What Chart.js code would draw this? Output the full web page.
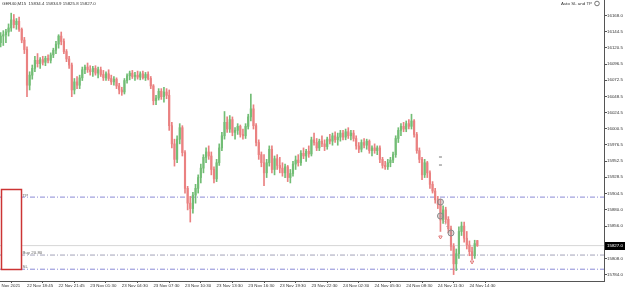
<!DOCTYPE html>
<html>
<head>
<meta charset="utf-8">
<script src="https://cdn.jsdelivr.net/npm/chart.js@4.4.0/dist/chart.umd.min.js"></script>
<style>
  html, body { margin: 0; padding: 0; background: #fff; }
  #wrap { width: 625px; height: 289px; }
</style>
</head>
<body>
<div id="wrap"><canvas id="chart"></canvas></div>
<script>
// GER40 M15 candles, index 0 = first bar on screen
const opens = [
  16128, 16138, 16140, 16144, 16150, 16162, 16155, 16160, 16148, 16132,
  16118, 16065, 16080, 16090, 16102, 16097, 16103, 16099, 16105, 16102,
  16110, 16117, 16126, 16138, 16130, 16115, 16104, 16095, 16058, 16070,
  16065, 16076, 16088, 16092, 16088, 16085, 16090, 16083, 16088, 16081,
  16076, 16082, 16075, 16070, 16074, 16064, 16058, 16055, 16072, 16079,
  16083, 16078, 16080, 16077, 16082, 16076, 16081, 16075, 16064, 16042,
  16046, 16056, 16048, 16055, 16050, 16005, 15978, 15955, 15985, 16002,
  15965, 15912, 15890, 15882, 15902, 15912, 15928, 15942, 15958, 15966,
  15960, 15940, 15926, 15950, 15972, 15990, 16010, 16000, 16014, 15995,
  15998, 16004, 15992, 15990, 16004, 16018, 16030, 16005, 15980, 15962,
  15950, 15935, 15950, 15970, 15940, 15956, 15946, 15942, 15935, 15944,
  15928, 15934, 15948, 15954, 15950, 15964, 15960, 15967, 15963, 15984,
  15980, 15972, 15982, 15978, 15974, 15985, 15982, 15990, 15984, 15988,
  15994, 15988, 15996, 15990, 15994, 15986, 15975, 15970, 15980, 15976,
  15982, 15968, 15972, 15968, 15972, 15955, 15946, 15944, 15950, 15954,
  15962, 15986, 15998, 16004, 16000, 16008, 16004, 16012, 15992, 15968,
  15955, 15932, 15950, 15935, 15918, 15908, 15895, 15888, 15865, 15880,
  15866, 15852, 15826, 15800, 15815, 15848, 15856, 15838, 15828, 15818,
  15812, 15834.4
];
const highs = [
  16143, 16146, 16148, 16156, 16172, 16170, 16164, 16166, 16150, 16136,
  16122, 16085, 16095, 16108, 16112, 16106, 16108, 16108, 16110, 16113,
  16120, 16130, 16140, 16144, 16134, 16118, 16108, 16098, 16075, 16078,
  16080, 16092, 16095, 16098, 16094, 16093, 16094, 16092, 16092, 16087,
  16085, 16088, 16080, 16078, 16076, 16068, 16062, 16075, 16082, 16086,
  16087, 16084, 16086, 16085, 16086, 16084, 16085, 16078, 16066, 16050,
  16060, 16060, 16062, 16060, 16058, 16010, 15985, 15990, 16008, 16005,
  15968, 15915, 15900, 15906, 15918, 15932, 15948, 15962, 15972, 15975,
  15966, 15944, 15955, 15978, 15995, 16026, 16018, 16020, 16018, 16002,
  16008, 16006, 16000, 16008, 16022, 16052, 16036, 16008, 15984, 15966,
  15962, 15955, 15975, 15975, 15960, 15962, 15958, 15950, 15948, 15946,
  15940, 15952, 15960, 15962, 15968, 15972, 15970, 15975, 15988, 15994,
  15986, 15985, 15990, 15984, 15988, 15992, 15994, 15996, 15994, 15998,
  15998, 16000, 16002, 15998, 15998, 15990, 15980, 15984, 15986, 15985,
  15984, 15975, 15978, 15975, 15975, 15958, 15952, 15955, 15958, 15966,
  15990, 16002, 16008, 16010, 16012, 16014, 16022, 16014, 15995, 15972,
  15958, 15955, 15952, 15938, 15922, 15912, 15900, 15896, 15886, 15884,
  15870, 15856, 15830, 15822, 15855, 15862, 15862, 15848, 15834, 15825,
  15835, 15834.9
];
const lows = [
  16122, 16124, 16128, 16138, 16145, 16150, 16148, 16145, 16128, 16112,
  16048, 16058, 16074, 16085, 16092, 16090, 16095, 16094, 16098, 16098,
  16106, 16112, 16120, 16125, 16112, 16100, 16090, 16048, 16052, 16060,
  16060, 16072, 16082, 16084, 16080, 16078, 16080, 16076, 16078, 16072,
  16072, 16072, 16066, 16065, 16060, 16052, 16050, 16052, 16068, 16073,
  16075, 16072, 16074, 16073, 16074, 16072, 16073, 16060, 16036, 16036,
  16043, 16044, 16040, 16045, 15998, 15972, 15945, 15950, 15978, 15960,
  15905, 15880, 15862, 15875, 15890, 15905, 15920, 15935, 15950, 15955,
  15932, 15920, 15922, 15946, 15968, 15985, 15995, 15995, 15990, 15985,
  15992, 15988, 15985, 15986, 16000, 16012, 16000, 15975, 15955, 15944,
  15916, 15928, 15945, 15935, 15932, 15940, 15935, 15930, 15928, 15922,
  15920, 15930, 15940, 15945, 15946, 15956, 15952, 15958, 15960, 15976,
  15968, 15968, 15974, 15968, 15970, 15978, 15976, 15980, 15976, 15982,
  15984, 15984, 15986, 15984, 15982, 15970, 15965, 15966, 15972, 15970,
  15964, 15960, 15964, 15962, 15950, 15942, 15940, 15940, 15944, 15950,
  15958, 15980, 15990, 15996, 15996, 16000, 16000, 15988, 15964, 15950,
  15925, 15928, 15928, 15912, 15905, 15890, 15882, 15848, 15860, 15860,
  15846, 15820, 15784, 15790, 15808, 15842, 15832, 15822, 15812, 15806,
  15808, 15825.8
];
const closes = [
  16138, 16140, 16144, 16150, 16162, 16155, 16160, 16148, 16132, 16118,
  16065, 16080, 16090, 16102, 16097, 16103, 16099, 16105, 16102, 16110,
  16117, 16126, 16138, 16130, 16115, 16104, 16095, 16058, 16070, 16065,
  16076, 16088, 16092, 16088, 16085, 16090, 16083, 16088, 16081, 16076,
  16082, 16075, 16070, 16074, 16064, 16058, 16055, 16072, 16079, 16083,
  16078, 16080, 16077, 16082, 16076, 16081, 16075, 16064, 16042, 16046,
  16056, 16048, 16055, 16050, 16005, 15978, 15955, 15985, 16002, 15965,
  15912, 15890, 15882, 15902, 15912, 15928, 15942, 15958, 15966, 15960,
  15940, 15926, 15950, 15972, 15990, 16010, 16000, 16014, 15995, 15998,
  16004, 15992, 15990, 16004, 16018, 16030, 16005, 15980, 15962, 15950,
  15935, 15950, 15970, 15940, 15956, 15946, 15942, 15935, 15944, 15928,
  15934, 15948, 15954, 15950, 15964, 15960, 15967, 15963, 15984, 15980,
  15972, 15982, 15978, 15974, 15985, 15982, 15990, 15984, 15988, 15994,
  15988, 15996, 15990, 15994, 15986, 15975, 15970, 15980, 15976, 15982,
  15968, 15972, 15968, 15972, 15955, 15946, 15944, 15950, 15954, 15962,
  15986, 15998, 16004, 16000, 16008, 16004, 16012, 15992, 15968, 15955,
  15932, 15950, 15935, 15918, 15908, 15895, 15888, 15865, 15880, 15866,
  15852, 15826, 15800, 15815, 15848, 15856, 15838, 15828, 15818, 15812,
  15830, 15827.0
];

// time axis labels and the bar index they sit on
const timeLabels = ['22 Nov 2021', '22 Nov 18:45', '22 Nov 21:45', '23 Nov 01:30', '23 Nov 04:30',
  '23 Nov 07:30', '23 Nov 10:30', '23 Nov 13:30', '23 Nov 16:30', '23 Nov 19:30', '23 Nov 22:30',
  '24 Nov 02:30', '24 Nov 05:30', '24 Nov 08:30', '24 Nov 11:30', '24 Nov 14:30'];
const timeTickIdx = [-2, 10, 22, 34, 46, 58, 70, 82, 94, 106, 118, 130, 142, 154, 166, 178];

// price scale labels
const priceTicks = [16168.0, 16144.5, 16120.5, 16096.5, 16072.5, 16048.5, 16024.5, 16000.5,
  15976.5, 15952.5, 15928.5, 15904.5, 15880.0, 15856.0, 15808.0, 15784.0];

// trade levels
const tpLevel = 15899;
const buyLevel = 15813;
const slLevel = 15792;
const buyLots = '20.80';

// trade markers on the chart
const dealIdx = [167, 167, 171];
const dealPrice = [15891.7, 15871, 15845.7];
const orderMarkIdx = [167, 167];
const orderMarkPrice = [15958.5, 15946.6];
const stopMarkIdx = [167, 179];
const stopMarkPrice = [15839.8, 15802.7];

const X_MIN = -0.25, X_MAX = 229.1;
const Y_MIN = 15774.5, Y_MAX = 16191.5;

const BULL = '#72bd75';
const BEAR = '#ea8181';
const LEVEL = '#8a8ad6';
const FAMILY = "'Liberation Sans', Arial, sans-serif";

const last = closes.length - 1;
const candleColor = c => (closes[c.dataIndex] >= opens[c.dataIndex] ? BULL : BEAR);

function levelLine(v, color, dash) {
  return {
    type: 'line',
    data: [{ x: X_MIN, y: v }, { x: X_MAX, y: v }],
    borderColor: color,
    borderWidth: 1,
    borderDash: dash,
    pointRadius: 0,
    order: 10,
  };
}

// overlay texts: header, expert name, trade panel, bid box
const overlay = {
  id: 'overlay',
  afterDraw(chart) {
    const ctx = chart.ctx;
    const ya = chart.scales.y;
    const area = chart.chartArea;
    ctx.save();
    ctx.font = '4.4px ' + FAMILY;
    ctx.textBaseline = 'middle';
    ctx.fillStyle = '#333';
    ctx.textAlign = 'left';
    ctx.fillText('GER40,M15  ' + [opens[last], highs[last], lows[last], closes[last]].map(v => v.toFixed(1)).join(' '), 2, 3.5);
    ctx.textAlign = 'right';
    ctx.fillText('Auto SL and TP', 592, 3.5);
    ctx.strokeStyle = '#555';
    ctx.lineWidth = 0.8;
    ctx.beginPath();
    ctx.arc(597, 3.5, 2.3, 0, Math.PI * 2);
    ctx.stroke();

    // trade panel
    ctx.fillStyle = '#fff';
    ctx.fillRect(1, 189, 21, 81);
    ctx.strokeStyle = '#cc3434';
    ctx.lineWidth = 1.5;
    ctx.strokeRect(1.5, 189.5, 20, 80);
    ctx.textAlign = 'left';
    ctx.fillStyle = '#666';
    ctx.fillText('TP', 22.5, ya.getPixelForValue(tpLevel) - 1.5);
    ctx.fillText('Buy ' + buyLots, 22.5, ya.getPixelForValue(buyLevel) - 2);
    ctx.fillText('SL', 22.5, ya.getPixelForValue(slLevel) - 2);

    // bid box on the price scale
    const py = Math.round(ya.getPixelForValue(closes[last]));
    ctx.fillStyle = '#000';
    ctx.fillRect(area.right + 1, py - 4, chart.width - area.right - 1, 8);
    ctx.fillStyle = '#fff';
    ctx.fillText(closes[last].toFixed(1), area.right + 3, py);
    ctx.restore();
  },
};

new Chart(document.getElementById('chart'), {
  type: 'bar',
  data: {
    datasets: [
      {
        label: 'wick',
        data: opens.map((o, i) => ({ x: i, y: [lows[i], highs[i]] })),
        backgroundColor: candleColor,
        barThickness: 1,
        grouped: false,
        order: 2,
      },
      {
        label: 'body',
        data: opens.map((o, i) => ({ x: i, y: [o, closes[i]] })),
        backgroundColor: candleColor,
        barThickness: 1.5,
        minBarLength: 1,
        grouped: false,
        order: 1,
      },
      levelLine(tpLevel, LEVEL, [5, 2, 1, 2]),
      levelLine(buyLevel, '#a3a3b8', [5, 2, 1, 2]),
      levelLine(slLevel, LEVEL, [5, 2, 1, 2]),
      levelLine(closes[last], '#d6d6d6', []),
      {
        type: 'line',
        data: dealIdx.slice(1).map((x, i) => ({ x, y: dealPrice[i + 1] })),
        borderColor: '#9a9a9a',
        borderWidth: 1,
        borderDash: [1, 2],
        pointRadius: 0,
        order: 0,
      },
      {
        type: 'scatter',
        data: dealIdx.map((x, i) => ({ x, y: dealPrice[i] })),
        pointStyle: 'circle',
        pointRadius: 3,
        borderColor: '#8a8a8a',
        backgroundColor: 'rgba(160,160,160,0.35)',
        borderWidth: 1,
        order: 0,
      },
      {
        type: 'scatter',
        data: orderMarkIdx.map((x, i) => ({ x, y: orderMarkPrice[i] })),
        pointStyle: 'line',
        pointRadius: 1.5,
        borderColor: '#777',
        borderWidth: 1,
        order: 0,
      },
      {
        type: 'scatter',
        data: stopMarkIdx.map((x, i) => ({ x, y: stopMarkPrice[i] })),
        pointStyle: 'triangle',
        rotation: 180,
        pointRadius: 2,
        borderColor: '#e07878',
        backgroundColor: 'rgba(0,0,0,0)',
        borderWidth: 1,
        order: 0,
      },
    ],
  },
  options: {
    responsive: true,
    maintainAspectRatio: false,
    animation: false,
    layout: { padding: 0, autoPadding: false },
    plugins: { legend: { display: false }, tooltip: { enabled: false } },
    scales: {
      x: {
        type: 'linear',
        min: X_MIN,
        max: X_MAX,
        offset: false,
        afterBuildTicks: s => { s.ticks = timeTickIdx.map(v => ({ value: v })); },
        afterFit: s => { s.height = 8; s.paddingLeft = 0; s.paddingRight = 0; },
        ticks: {
          align: 'start',
          autoSkip: false,
          maxRotation: 0,
          padding: 0,
          font: { size: 4.4, family: FAMILY },
          color: '#333',
          callback: (v, i) => timeLabels[i],
        },
        grid: { drawOnChartArea: false, tickLength: 2, color: '#555' },
        border: { color: '#555' },
      },
      y: {
        position: 'right',
        min: Y_MIN,
        max: Y_MAX,
        afterBuildTicks: s => { s.ticks = priceTicks.map(v => ({ value: v })); },
        afterFit: s => { s.width = 21; s.paddingTop = 0; s.paddingBottom = 0; },
        ticks: {
          autoSkip: false,
          crossAlign: 'near',
          padding: 0,
          font: { size: 4.4, family: FAMILY, lineHeight: 0.1 },
          color: '#333',
          callback: v => v.toFixed(1),
        },
        grid: { drawOnChartArea: false, tickLength: 3, color: '#555' },
        border: { color: '#555' },
      },
    },
  },
  plugins: [overlay],
});
</script>
</body>
</html>
